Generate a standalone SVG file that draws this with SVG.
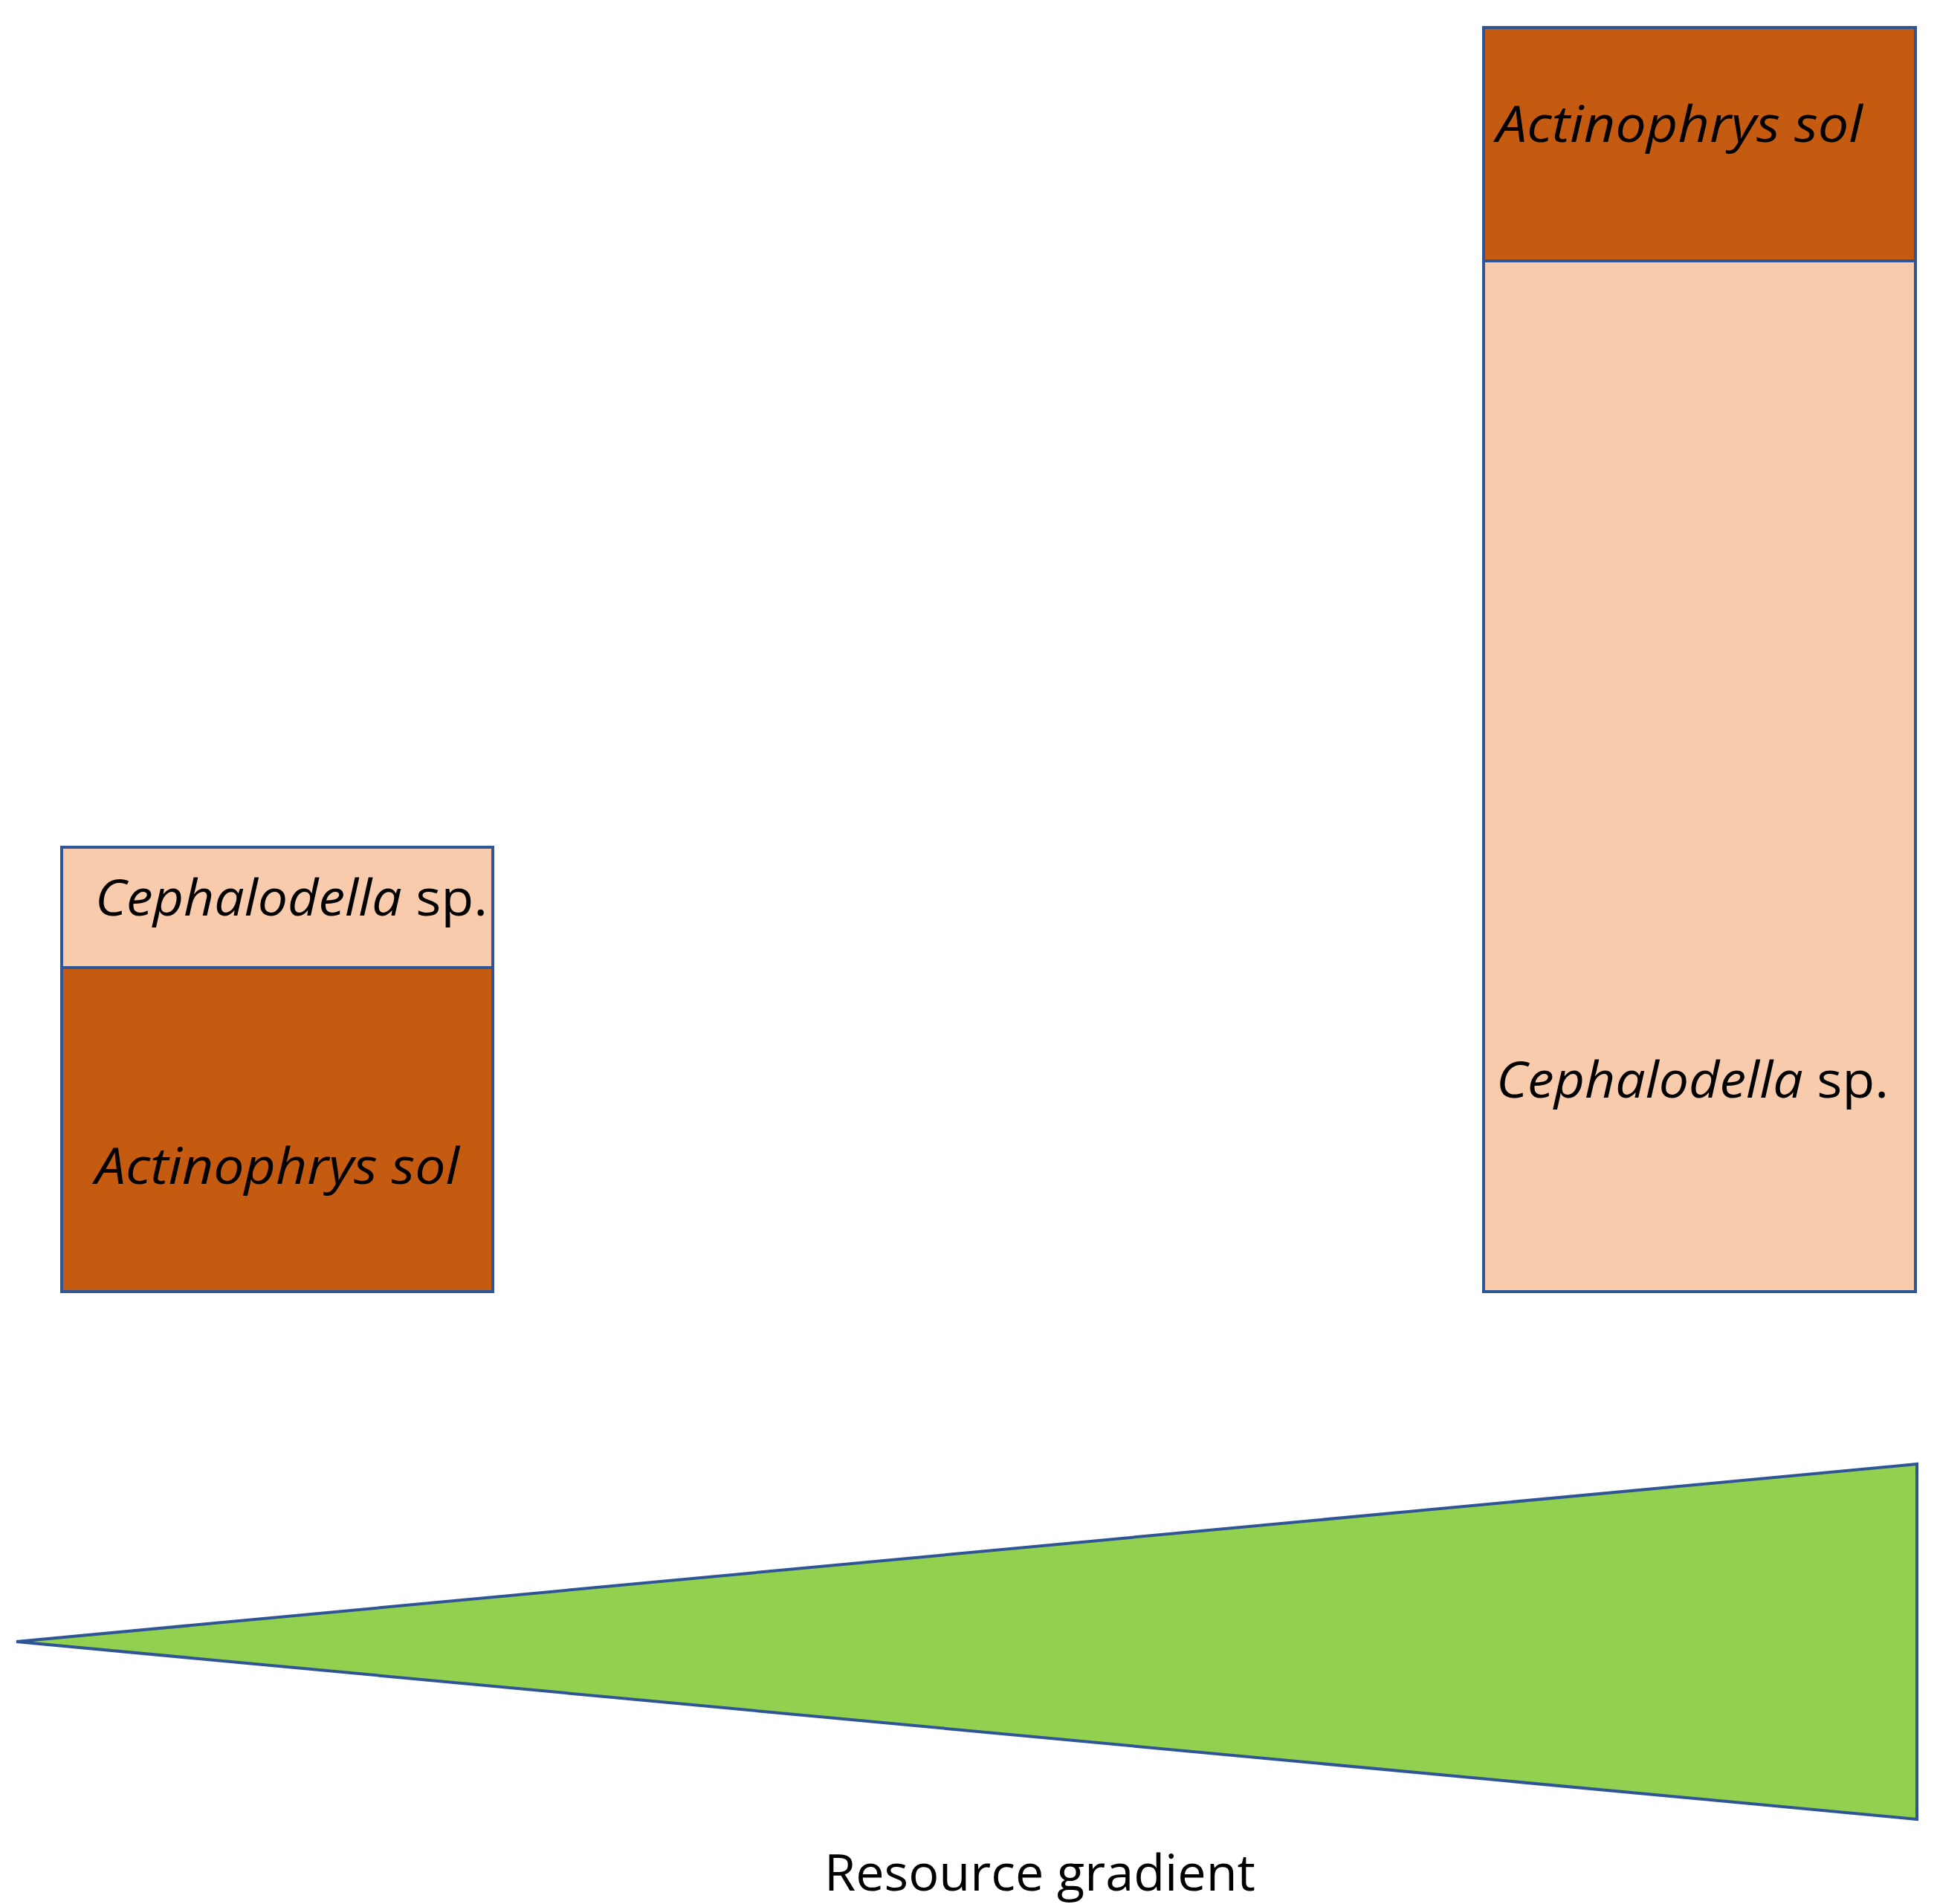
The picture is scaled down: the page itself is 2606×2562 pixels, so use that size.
<svg xmlns="http://www.w3.org/2000/svg" width="2606" height="2562" viewBox="0 0 2606 2562">
<style>
.s{stroke:#2F5597;stroke-width:4}
.d{fill:#C55A11}.p{fill:#F8CBAD}
text{font-family:"Open Sans","Liberation Sans",sans-serif;font-size:68px;fill:#000}
.i{font-style:italic}
</style>
<rect width="2606" height="2562" fill="#fff"/>
<g id="left">
<rect class="s p" x="83" y="1140" width="580" height="162"/>
<rect class="s d" x="83" y="1302" width="580" height="436"/>
<text x="128" y="1232" textLength="528" lengthAdjust="spacingAndGlyphs"><tspan class="i">Cephalodella</tspan> sp.</text>
<text class="i" x="128" y="1593" textLength="490" lengthAdjust="spacingAndGlyphs">Actinophrys sol</text>
</g>
<g id="right">
<rect class="s d" x="1996" y="37" width="581" height="314"/>
<rect class="s p" x="1996" y="351" width="581" height="1387"/>
<text class="i" x="2013" y="191" textLength="493" lengthAdjust="spacingAndGlyphs">Actinophrys sol</text>
<text x="2013" y="1477" textLength="528" lengthAdjust="spacingAndGlyphs"><tspan class="i">Cephalodella</tspan> sp.</text>
</g>
<g id="gradient">
<polygon class="s" fill="#92D050" points="22,2209 2579,1970 2579,2448"/>
<text x="1399" y="2544" text-anchor="middle" textLength="580" lengthAdjust="spacingAndGlyphs">Resource gradient</text>
</g>
<g id="connectors"/>
</svg>
